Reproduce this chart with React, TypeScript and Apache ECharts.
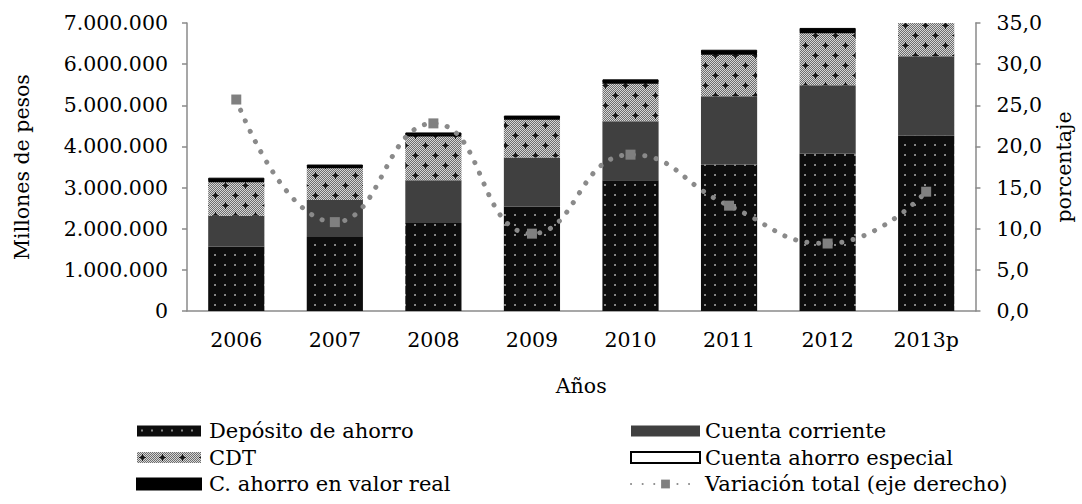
import React, { useEffect, useRef } from "react";
import * as echarts from "echarts";

const years = ["2006", "2007", "2008", "2009", "2010", "2011", "2012", "2013p"];
const depositoAhorro = [1566000, 1800000, 2140000, 2540000, 3180000, 3560000, 3830000, 4260000];
const cuentaCorriente = [748000, 900000, 1040000, 1190000, 1430000, 1660000, 1660000, 1930000];
const cdt = [836000, 790000, 1080000, 940000, 930000, 1030000, 1280000, 860000];
const cuentaAhorroEspecial = [10000, 10000, 10000, 10000, 10000, 10000, 10000, 10000];
const ahorroValorReal = [80000, 60000, 70000, 70000, 80000, 90000, 100000, 100000];
const variacionTotal = [25.7, 10.8, 22.8, 9.4, 19.0, 12.8, 8.2, 14.5];

const leftTickLabels = ["0", "1.000.000", "2.000.000", "3.000.000", "4.000.000", "5.000.000", "6.000.000", "7.000.000"];
const rightTickLabels = ["0,0", "5,0", "10,0", "15,0", "20,0", "25,0", "30,0", "35,0"];

const FONT = "DejaVu Serif";

function makeDepositoPattern() {
  const c = document.createElement("canvas");
  c.width = 10;
  c.height = 10;
  const g = c.getContext("2d")!;
  g.fillStyle = "#0d0d0d";
  g.fillRect(0, 0, 10, 10);
  g.fillStyle = "#858585";
  g.fillRect(4, 4, 2, 2);
  return { image: c, repeat: "repeat", imageWidth: 10, imageHeight: 10 } as any;
}

function makeCdtPattern() {
  const c = document.createElement("canvas");
  c.width = 20;
  c.height = 20;
  const g = c.getContext("2d")!;
  for (let y = 0; y < 20; y++) {
    for (let x = 0; x < 20; x++) {
      g.fillStyle = (x + y) % 2 === 0 ? "#d6d6d6" : "#6e6e6e";
      g.fillRect(x, y, 1, 1);
    }
  }
  g.fillStyle = "#1a1a1a";
  const cross = (cx: number, cy: number) => {
    g.fillRect(cx - 3, cy, 7, 1);
    g.fillRect(cx, cy - 3, 1, 7);
    g.fillRect(cx - 1, cy - 1, 3, 3);
  };
  cross(5, 5);
  cross(15, 15);
  return { image: c, repeat: "repeat", imageWidth: 20, imageHeight: 20 } as any;
}

export default function App() {
  const ref = useRef<HTMLDivElement>(null);
  useEffect(() => {
    if (!ref.current) return;
    const chart = echarts.init(ref.current, undefined, { renderer: "svg" });
    const depPat = makeDepositoPattern();
    const cdtPat = makeCdtPattern();
    const axisLine = { show: true, lineStyle: { color: "#8a8a8a", width: 1.5 } };
    const textBase = { fontFamily: FONT, color: "#000", fontSize: 20.5 };
    const legendText = { fontFamily: FONT, color: "#000", fontSize: 21, lineHeight: 22, padding: [0, 0, 0, 3] };
    chart.setOption({
      animation: false,
      backgroundColor: "#fff",
      grid: { left: 187, right: 106, top: 23, bottom: 193, containLabel: false },
      legend: [
        {
          orient: "vertical",
          left: 136,
          top: 420,
          padding: 0,
          itemWidth: 64,
          itemHeight: 11,
          itemGap: 4.5,
          textStyle: legendText,
          data: [
            { name: "Depósito de ahorro", icon: "rect" },
            { name: "CDT", icon: "rect" },
            { name: "C. ahorro en valor real", icon: "rect" },
          ],
        },
        {
          orient: "vertical",
          left: 630,
          top: 420,
          padding: 0,
          itemWidth: 69,
          itemHeight: 11,
          itemGap: 4.5,
          textStyle: { ...legendText, padding: [0, 0, 0, 0] },
          data: [
            { name: "Cuenta corriente", icon: "rect" },
            { name: "Cuenta ahorro especial", icon: "rect" },
            { name: "Variación total (eje derecho)" },
          ],
        },
      ],
      xAxis: {
        type: "category",
        data: years,
        axisLine,
        axisTick: { show: false },
        axisLabel: { ...textBase, margin: 18 },
        name: "Años",
        nameLocation: "middle",
        nameGap: 64,
        nameTextStyle: { ...textBase },
      },
      yAxis: [
        {
          type: "value",
          min: 0,
          max: 7000000,
          interval: 1000000,
          axisLine,
          axisTick: { show: true, inside: false, length: 5, lineStyle: { color: "#8a8a8a", width: 1.5 } },
          splitLine: { show: false },
          axisLabel: {
            ...textBase,
            margin: 19,
            formatter: (v: number) => leftTickLabels[Math.round(v / 1000000)],
          },
          name: "Millones de pesos",
          nameLocation: "middle",
          nameGap: 155,
          nameRotate: 90,
          nameTextStyle: { ...textBase },
        },
        {
          type: "value",
          min: 0,
          max: 35,
          interval: 5,
          position: "right",
          axisLine,
          axisTick: { show: true, inside: false, length: 5, lineStyle: { color: "#8a8a8a", width: 1.5 } },
          splitLine: { show: false },
          axisLabel: {
            ...textBase,
            margin: 21,
            formatter: (v: number) => rightTickLabels[Math.round(v / 5)],
          },
          name: "porcentaje",
          nameLocation: "middle",
          nameGap: 74,
          nameRotate: 90,
          nameTextStyle: { ...textBase },
        },
      ],
      series: [
        {
          name: "Depósito de ahorro",
          type: "bar",
          stack: "total",
          barWidth: "57%",
          data: depositoAhorro,
          itemStyle: { color: depPat },
        },
        {
          name: "Cuenta corriente",
          type: "bar",
          stack: "total",
          data: cuentaCorriente,
          itemStyle: { color: "#404040" },
        },
        {
          name: "CDT",
          type: "bar",
          stack: "total",
          data: cdt,
          itemStyle: { color: cdtPat },
        },
        {
          name: "Cuenta ahorro especial",
          type: "bar",
          stack: "total",
          data: cuentaAhorroEspecial,
          itemStyle: { color: "#ffffff", borderColor: "#000", borderWidth: 2 },
        },
        {
          name: "C. ahorro en valor real",
          type: "bar",
          stack: "total",
          data: ahorroValorReal,
          itemStyle: { color: "#000000", borderColor: "#000", borderWidth: 1 },
        },
        {
          name: "Variación total (eje derecho)",
          type: "line",
          yAxisIndex: 1,
          smooth: true,
          data: variacionTotal,
          symbol: "rect",
          symbolSize: 10,
          itemStyle: { color: "#808080" },
          lineStyle: { color: "#8a8a8a", width: 5, type: [0.1, 11.5], cap: "round" },
          z: 5,
        },
      ],
    });
    return () => chart.dispose();
  }, []);
  return <div ref={ref} style={{ width: 1082, height: 504, position: "absolute", left: 0, top: 0 }} />;
}
